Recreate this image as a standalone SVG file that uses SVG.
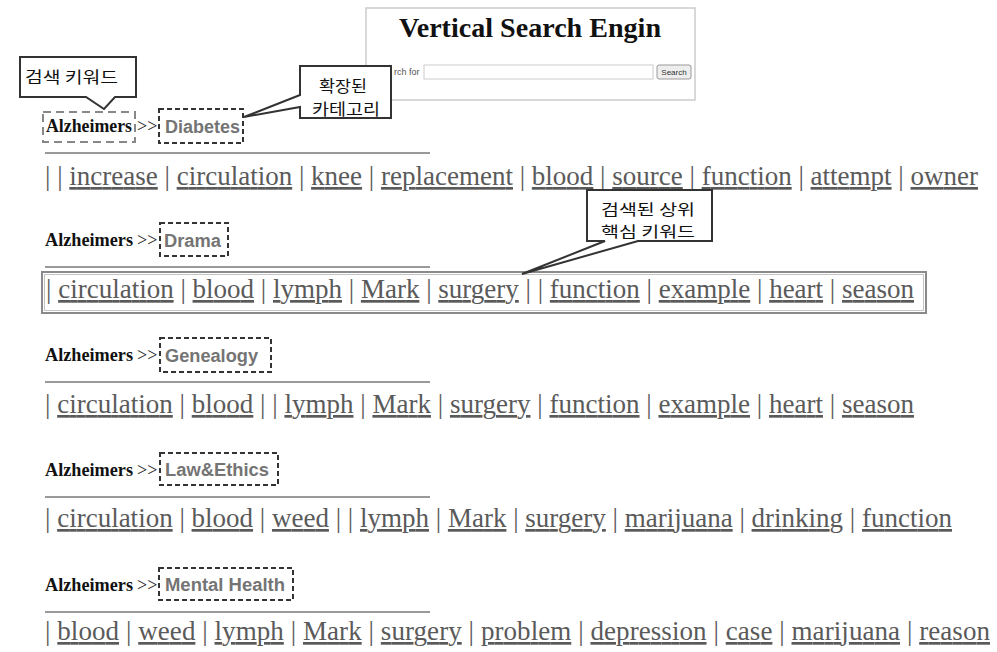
<svg xmlns="http://www.w3.org/2000/svg" width="997" height="652" viewBox="0 0 997 652">
<style>
.hd{font-family:"Liberation Serif","Times New Roman",serif;font-weight:bold;font-size:18px;fill:#111}
.gt{font-family:"Liberation Serif","Times New Roman",serif;font-size:18px;fill:#222}
.cat{font-family:"Liberation Sans",Arial,sans-serif;font-weight:bold;font-size:18px;fill:#747474}
.row{font-family:"Liberation Serif","Times New Roman",serif;font-size:27px;fill:#5a5a5a}
.u{text-decoration:underline}
.catbox{fill:none;stroke:#333;stroke-width:2;stroke-dasharray:5 3}
.rule{stroke:#9a9a9a;stroke-width:2}
.call{fill:#fff;stroke:#333;stroke-width:2;stroke-linejoin:miter}
.ko{font-family:"Noto Sans CJK KR","Noto Sans",sans-serif;fill:#111}
</style>

<g id="search-panel">
<rect x="366" y="8" width="329" height="92" fill="#fff" stroke="#ccc" stroke-width="1.5"/>
<text x="530" y="37" text-anchor="middle" font-family="Liberation Serif,Times New Roman,serif" font-weight="bold" font-size="28" fill="#111" textLength="262" lengthAdjust="spacingAndGlyphs">Vertical Search Engin</text>
<text x="394" y="75" font-family="Liberation Sans,Arial,sans-serif" font-size="9" fill="#555">rch for</text>
<rect x="424" y="65" width="229" height="14" fill="#fff" stroke="#ccc"/>
<rect x="657" y="65" width="34" height="14" rx="2" fill="#eee" stroke="#999"/>
<text x="674" y="75" text-anchor="middle" font-family="Liberation Sans,Arial,sans-serif" font-size="8" fill="#333">Search</text>
</g>

<g id="section-diabetes">
<rect x="43" y="112" width="92" height="30" fill="none" stroke="#888" stroke-width="2" stroke-dasharray="8 5"/>
<text class="hd" x="46" y="132" textLength="86" lengthAdjust="spacingAndGlyphs">Alzheimers</text>
<text class="gt" x="137" y="132">&gt;&gt;</text>
<rect class="catbox" x="159" y="109" width="84" height="34"/>
<text class="cat" x="165" y="133" textLength="75" lengthAdjust="spacingAndGlyphs">Diabetes</text>
<line class="rule" x1="45" y1="153" x2="430" y2="153"/>
<text class="row" x="45" y="185" textLength="933" lengthAdjust="spacing">| | <tspan class="u">increase</tspan> | <tspan class="u">circulation</tspan> | <tspan class="u">knee</tspan> | <tspan class="u">replacement</tspan> | <tspan class="u">blood</tspan> | <tspan class="u">source</tspan> | <tspan class="u">function</tspan> | <tspan class="u">attempt</tspan> | <tspan class="u">owner</tspan></text>
</g>

<g id="section-drama">
<text class="hd" x="45" y="246" textLength="88" lengthAdjust="spacingAndGlyphs">Alzheimers</text>
<text class="gt" x="137" y="246">&gt;&gt;</text>
<rect class="catbox" x="160" y="223" width="68" height="33"/>
<text class="cat" x="164" y="247" textLength="57" lengthAdjust="spacingAndGlyphs">Drama</text>
<line class="rule" x1="45" y1="267" x2="430" y2="267"/>
<rect x="42" y="272" width="884" height="41" fill="none" stroke="#8a8a8a" stroke-width="2"/>
<rect x="44.5" y="274.5" width="879" height="36" fill="none" stroke="#c4c4c4" stroke-width="1"/>
<text class="row" x="46" y="298" textLength="868" lengthAdjust="spacing">| <tspan class="u">circulation</tspan> | <tspan class="u">blood</tspan> | <tspan class="u">lymph</tspan> | <tspan class="u">Mark</tspan> | <tspan class="u">surgery</tspan> | | <tspan class="u">function</tspan> | <tspan class="u">example</tspan> | <tspan class="u">heart</tspan> | <tspan class="u">season</tspan></text>
</g>

<g id="section-genealogy">
<text class="hd" x="45" y="361" textLength="88" lengthAdjust="spacingAndGlyphs">Alzheimers</text>
<text class="gt" x="137" y="361">&gt;&gt;</text>
<rect class="catbox" x="160" y="338" width="111" height="34"/>
<text class="cat" x="165" y="362" textLength="93" lengthAdjust="spacingAndGlyphs">Genealogy</text>
<line class="rule" x1="45" y1="382" x2="430" y2="382"/>
<text class="row" x="45" y="413" textLength="869" lengthAdjust="spacing">| <tspan class="u">circulation</tspan> | <tspan class="u">blood</tspan> | | <tspan class="u">lymph</tspan> | <tspan class="u">Mark</tspan> | <tspan class="u">surgery</tspan> | <tspan class="u">function</tspan> | <tspan class="u">example</tspan> | <tspan class="u">heart</tspan> | <tspan class="u">season</tspan></text>
</g>

<g id="section-lawethics">
<text class="hd" x="45" y="476" textLength="88" lengthAdjust="spacingAndGlyphs">Alzheimers</text>
<text class="gt" x="137" y="476">&gt;&gt;</text>
<rect class="catbox" x="160" y="453" width="118" height="32"/>
<text class="cat" x="165" y="476" textLength="104" lengthAdjust="spacingAndGlyphs">Law&amp;Ethics</text>
<line class="rule" x1="45" y1="497" x2="430" y2="497"/>
<text class="row" x="45" y="527" textLength="907" lengthAdjust="spacing">| <tspan class="u">circulation</tspan> | <tspan class="u">blood</tspan> | <tspan class="u">weed</tspan> | | <tspan class="u">lymph</tspan> | <tspan class="u">Mark</tspan> | <tspan class="u">surgery</tspan> | <tspan class="u">marijuana</tspan> | <tspan class="u">drinking</tspan> | <tspan class="u">function</tspan></text>
</g>

<g id="section-mentalhealth">
<text class="hd" x="45" y="591" textLength="88" lengthAdjust="spacingAndGlyphs">Alzheimers</text>
<text class="gt" x="137" y="591">&gt;&gt;</text>
<rect class="catbox" x="159" y="568" width="134" height="32"/>
<text class="cat" x="165" y="591" textLength="120" lengthAdjust="spacingAndGlyphs">Mental Health</text>
<line class="rule" x1="45" y1="612" x2="430" y2="612"/>
<text class="row" x="45" y="640" textLength="945" lengthAdjust="spacing">| <tspan class="u">blood</tspan> | <tspan class="u">weed</tspan> | <tspan class="u">lymph</tspan> | <tspan class="u">Mark</tspan> | <tspan class="u">surgery</tspan> | <tspan class="u">problem</tspan> | <tspan class="u">depression</tspan> | <tspan class="u">case</tspan> | <tspan class="u">marijuana</tspan> | <tspan class="u">reason</tspan></text>
</g>

<g id="connectors">
<g id="callout-search-keyword">
<path class="call" d="M20,57 H136 V97 H115 L104,109 L86,97 H20 Z"/>
<text class="ko" x="25" y="83" font-size="16" textLength="93" lengthAdjust="spacingAndGlyphs">검색 키워드</text>
</g>
<g id="callout-expanded-category">
<path class="call" d="M300,66 H391 V118 H300 V107 L244,117 L300,95 Z"/>
<text class="ko" x="319" y="92" font-size="15.5" textLength="48" lengthAdjust="spacingAndGlyphs">확장된</text>
<text class="ko" x="312" y="114.5" font-size="15.5" textLength="68" lengthAdjust="spacingAndGlyphs">카테고리</text>
</g>
<g id="callout-top-keywords">
<path class="call" d="M587,190 H712 V241 H638 L522,274 L605,241 H587 Z"/>
<text class="ko" x="601" y="215" font-size="15" textLength="94" lengthAdjust="spacingAndGlyphs">검색된 상위</text>
<text class="ko" x="601" y="237" font-size="15" textLength="94" lengthAdjust="spacingAndGlyphs">핵심 키워드</text>
</g>
</g>
</svg>
